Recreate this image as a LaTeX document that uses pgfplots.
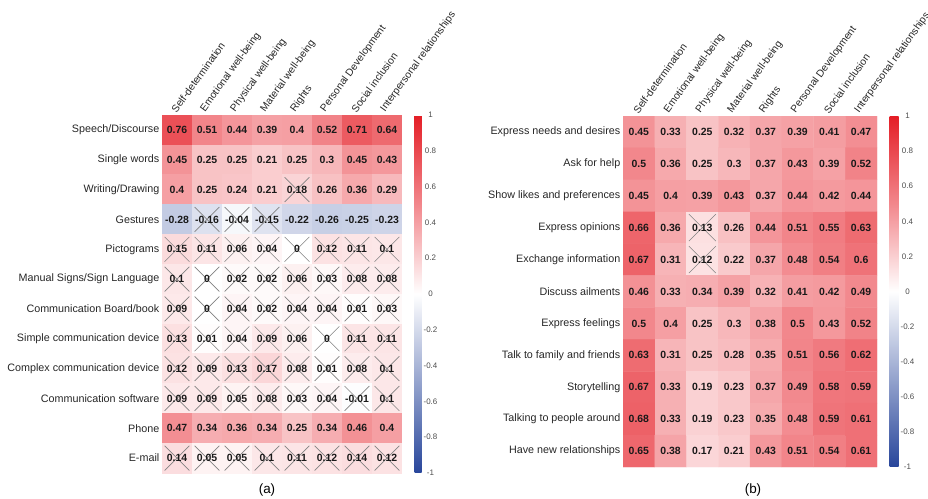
\documentclass[border=0pt]{standalone}
\usepackage{fontspec}
\setmainfont{Liberation Sans}
\usepackage{pgfplots}
\usepackage{pgfplotstable}
\pgfplotsset{compat=1.18}

\definecolor{crossgray}{RGB}{130,130,130}

% Correlations: x = quality-of-life domain, y = communication form / function, v = r
\pgfplotstableread{
x y v
0 0 0.76
1 0 0.51
2 0 0.44
3 0 0.39
4 0 0.4
5 0 0.52
6 0 0.71
7 0 0.64
0 1 0.45
1 1 0.25
2 1 0.25
3 1 0.21
4 1 0.25
5 1 0.3
6 1 0.45
7 1 0.43
0 2 0.4
1 2 0.25
2 2 0.24
3 2 0.21
4 2 0.18
5 2 0.26
6 2 0.36
7 2 0.29
0 3 -0.28
1 3 -0.16
2 3 -0.04
3 3 -0.15
4 3 -0.22
5 3 -0.26
6 3 -0.25
7 3 -0.23
0 4 0.15
1 4 0.11
2 4 0.06
3 4 0.04
4 4 0
5 4 0.12
6 4 0.11
7 4 0.1
0 5 0.1
1 5 0
2 5 0.02
3 5 0.02
4 5 0.06
5 5 0.03
6 5 0.08
7 5 0.08
0 6 0.09
1 6 0
2 6 0.04
3 6 0.02
4 6 0.04
5 6 0.04
6 6 0.01
7 6 0.03
0 7 0.13
1 7 0.01
2 7 0.04
3 7 0.09
4 7 0.06
5 7 0
6 7 0.11
7 7 0.11
0 8 0.12
1 8 0.09
2 8 0.13
3 8 0.17
4 8 0.08
5 8 0.01
6 8 0.08
7 8 0.1
0 9 0.09
1 9 0.09
2 9 0.05
3 9 0.08
4 9 0.03
5 9 0.04
6 9 -0.01
7 9 0.1
0 10 0.47
1 10 0.34
2 10 0.36
3 10 0.34
4 10 0.25
5 10 0.34
6 10 0.46
7 10 0.4
0 11 0.14
1 11 0.05
2 11 0.05
3 11 0.1
4 11 0.11
5 11 0.12
6 11 0.14
7 11 0.12
}\tabA

% Non-significant cells of panel (a)
\pgfplotstableread{
x y
4 2
1 3
2 3
3 3
0 4
1 4
2 4
3 4
4 4
5 4
6 4
7 4
0 5
1 5
2 5
3 5
4 5
5 5
6 5
7 5
0 6
1 6
2 6
3 6
4 6
5 6
6 6
7 6
0 7
1 7
2 7
3 7
4 7
5 7
6 7
7 7
0 8
1 8
2 8
3 8
4 8
5 8
6 8
7 8
0 9
1 9
2 9
3 9
4 9
5 9
6 9
7 9
0 11
1 11
2 11
3 11
4 11
5 11
6 11
7 11
}\nsA

\pgfplotstableread{
x y v
0 0 0.45
1 0 0.33
2 0 0.25
3 0 0.32
4 0 0.37
5 0 0.39
6 0 0.41
7 0 0.47
0 1 0.5
1 1 0.36
2 1 0.25
3 1 0.3
4 1 0.37
5 1 0.43
6 1 0.39
7 1 0.52
0 2 0.45
1 2 0.4
2 2 0.39
3 2 0.43
4 2 0.37
5 2 0.44
6 2 0.42
7 2 0.44
0 3 0.66
1 3 0.36
2 3 0.13
3 3 0.26
4 3 0.44
5 3 0.51
6 3 0.55
7 3 0.63
0 4 0.67
1 4 0.31
2 4 0.12
3 4 0.22
4 4 0.37
5 4 0.48
6 4 0.54
7 4 0.6
0 5 0.46
1 5 0.33
2 5 0.34
3 5 0.39
4 5 0.32
5 5 0.41
6 5 0.42
7 5 0.49
0 6 0.5
1 6 0.4
2 6 0.25
3 6 0.3
4 6 0.38
5 6 0.5
6 6 0.43
7 6 0.52
0 7 0.63
1 7 0.31
2 7 0.25
3 7 0.28
4 7 0.35
5 7 0.51
6 7 0.56
7 7 0.62
0 8 0.67
1 8 0.33
2 8 0.19
3 8 0.23
4 8 0.37
5 8 0.49
6 8 0.58
7 8 0.59
0 9 0.68
1 9 0.33
2 9 0.19
3 9 0.23
4 9 0.35
5 9 0.48
6 9 0.59
7 9 0.61
0 10 0.65
1 10 0.38
2 10 0.17
3 10 0.21
4 10 0.43
5 10 0.51
6 10 0.54
7 10 0.61
}\tabB

\pgfplotstableread{
x y
2 3
2 4
}\nsB

\pgfplotsset{
  corrheat/.style={
    colormap={bwr}{rgb255(0cm)=(40,70,155) rgb255(4cm)=(255,255,255)
      rgb255(6cm)=(242,135,140) rgb255(8cm)=(228,30,38)},
    point meta min=-1, point meta max=1,
    scale only axis,
    axis line style={draw=none},
    tick style={draw=none},
    y dir=reverse,
    xmin=-0.5, xmax=7.5,
    xtick={0,1,2,3,4,5,6,7},
    xticklabels={Self-determination, Emotional well-being, Physical well-being,
      Material well-being, Rights, Personal Development, Social inclusion,
      Interpersonal relationships},
    xticklabel pos=upper,
    x tick label style={rotate=54, anchor=south west, inner sep=1bp,
      font=\fontsize{10.3}{12}\selectfont, text=black!85},
    y tick label style={font=\fontsize{10.8}{13}\selectfont, text=black!85, inner sep=2.5bp},
    colorbar right,
  },
  cbar/.style={
    colorbar style={
      width=#1,
      at={(parent axis.north east)}, anchor=north west, xshift=4bp,
      axis line style={draw=none},
      tick style={draw=none},
      ytick={-1,-0.8,-0.6,-0.4,-0.2,0,0.2,0.4,0.6,0.8,1},
      yticklabels={-1,-0.8,-0.6,-0.4,-0.2,0,0.2,0.4,0.6,0.8,1},
      yticklabel style={font=\fontsize{8}{9}\selectfont, text=black!70,
        anchor=center, xshift=9bp},
    }
  },
  cellvals/.style={
    draw=none, mark=none, forget plot,
    nodes near coords, point meta=explicit symbolic,
    every node near coord/.append style={anchor=center, inner sep=0pt,
      font=\bfseries\fontsize{10.5}{12}\selectfont, text=black!90},
  },
}

\begin{document}
\begin{tikzpicture}
\path[use as bounding box] (0,0) rectangle (928bp,499bp);

% (a) forms of communication
\begin{axis}[corrheat, cbar=7bp,
  at={(162bp,26bp)}, anchor=south west,
  width=240bp, height=358bp,
  ymin=-0.5, ymax=11.5,
  ytick={0,1,2,3,4,5,6,7,8,9,10,11},
  yticklabels={Speech/Discourse, Single words, Writing/Drawing, Gestures,
    Pictograms, Manual Signs/Sign Language, Communication Board/book,
    Simple communication device, Complex communication device,
    Communication software, Phone, E-mail},
]
\addplot[matrix plot*, mesh/cols=8, point meta=explicit] table[x=x, y=y, meta=v] {\tabA};
\addplot[only marks, mark=x, mark size=17.5bp, crossgray,
  mark options={line width=0.6pt}, forget plot] table[x=x, y=y] {\nsA};
\addplot[cellvals] table[x=x, y=y, meta=v] {\tabA};
\end{axis}

% (b) communicative functions
\begin{axis}[corrheat, cbar=9bp,
  at={(623bp,32bp)}, anchor=south west,
  width=254bp, height=351bp,
  ymin=-0.5, ymax=10.5,
  ytick={0,1,2,3,4,5,6,7,8,9,10},
  yticklabels={Express needs and desires, Ask for help, Show likes and preferences,
    Express opinions, Exchange information, Discuss ailments, Express feelings,
    Talk to family and friends, Storytelling, Talking to people around,
    Have new relationships},
]
\addplot[matrix plot*, mesh/cols=8, point meta=explicit] table[x=x, y=y, meta=v] {\tabB};
\addplot[only marks, mark=x, mark size=19bp, crossgray,
  mark options={line width=0.6pt}, forget plot] table[x=x, y=y] {\nsB};
\addplot[cellvals] table[x=x, y=y, meta=v] {\tabB};
\end{axis}

\node[font=\fontsize{13.5}{15}\selectfont] at (267bp,9bp) {(a)};
\node[font=\fontsize{13.5}{15}\selectfont] at (753bp,9bp) {(b)};
\end{tikzpicture}
\end{document}
